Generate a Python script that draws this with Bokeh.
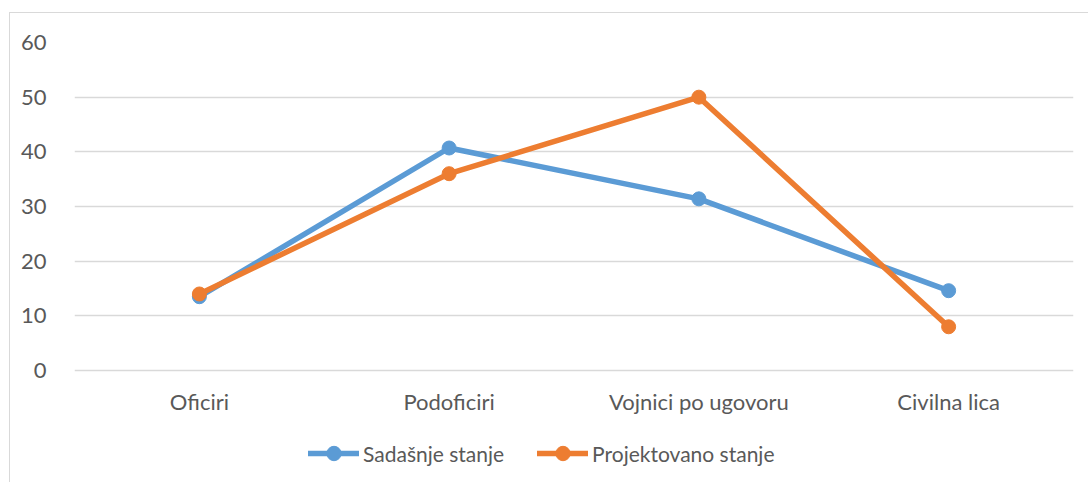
from bokeh.plotting import figure
from bokeh.models import FactorRange, Range1d, Legend, LegendItem, FixedTicker
from bokeh.embed import file_html
from bokeh.resources import INLINE

categories = ["Oficiri", "Podoficiri", "Vojnici po ugovoru", "Civilna lica"]
sadasnje = [13.5, 40.7, 31.4, 14.6]
projektovano = [14.0, 36.0, 50.0, 8.0]
series_names = ["Sadašnje stanje", "Projektovano stanje"]
y_ticks = [0, 10, 20, 30, 40, 50, 60]

FONT = "Lato"
FS = "22px"
TXT = "#595959"
BLUE = "#5B9BD5"
ORANGE = "#ED7D31"

p = figure(
    x_range=FactorRange(*categories, range_padding=0),
    y_range=Range1d(-20.67, 60),
    width=1079, height=470,
    output_backend="svg", toolbar_location=None,
    min_border_left=64, min_border_right=16, min_border_top=29, min_border_bottom=0,
)
p.margin = (12, 0, 0, 9)
p.styles = {"border-left": "1px solid #d9d9d9", "border-top": "1px solid #d9d9d9"}
p.outline_line_color = None
p.background_fill_color = "white"
p.border_fill_color = "white"

p.yaxis.ticker = FixedTicker(ticks=y_ticks)
p.yaxis.axis_line_color = None
p.yaxis.major_tick_line_color = None
p.yaxis.minor_tick_line_color = None
p.yaxis.major_label_standoff = 22
p.xaxis.fixed_location = 0
p.xaxis.axis_line_color = None
p.xaxis.major_tick_line_color = None
p.xaxis.minor_tick_line_color = None
p.xaxis.major_label_standoff = 11
for ax in (p.xaxis, p.yaxis):
    ax.major_label_text_font = FONT
    ax.major_label_text_font_size = FS
    ax.major_label_text_color = TXT

p.xgrid.grid_line_color = None
p.ygrid.grid_line_color = "#d9d9d9"
p.ygrid.grid_line_width = 1.5

items = []
for vals, color, name in ((sadasnje, BLUE, series_names[0]), (projektovano, ORANGE, series_names[1])):
    l = p.line(categories, vals, line_color=color, line_width=5.5, line_cap="round", line_join="round")
    c = p.scatter(categories, vals, size=14, fill_color=color, line_color=color)
    items.append(LegendItem(label=name, renderers=[l, c]))

legend = Legend(
    items=items, orientation="horizontal", location=(234, 12),
    glyph_width=51, glyph_height=36, label_height=36, label_standoff=4, spacing=33,
    padding=0, margin=0, border_line_color=None, background_fill_alpha=0,
    label_text_font=FONT, label_text_font_size="21px", label_text_color=TXT,
)
p.add_layout(legend, "center")

open("out.html", "w").write(file_html(p, INLINE))
